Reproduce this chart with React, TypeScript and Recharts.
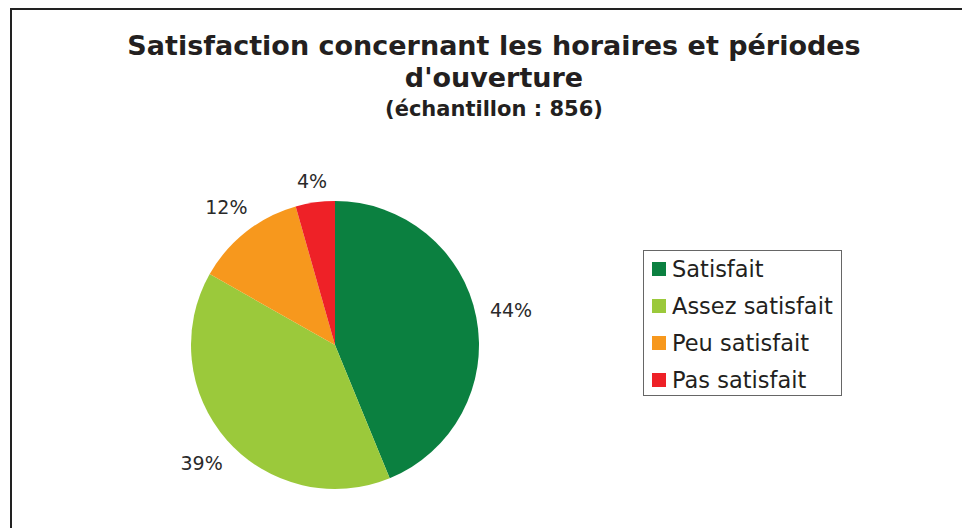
import { Legend, Pie, PieChart } from "recharts";

const categories = ["Satisfait", "Assez satisfait", "Peu satisfait", "Pas satisfait"];
const shares = [43.8, 39.4, 12.4, 4.4];
const colors = ["#0b8040", "#9bc93b", "#f7981d", "#ee2127"];

const data = categories.map((name, i) => ({ name, value: shares[i], fill: colors[i] }));

const RADIAN = Math.PI / 180;
const FONT = "'DejaVu Sans', Verdana, sans-serif";

function renderLabel(props: any) {
  const { cx, cy, midAngle, outerRadius, value } = props;
  const cos = Math.cos(-midAngle * RADIAN);
  const sin = Math.sin(-midAngle * RADIAN);
  const text = `${Math.round(value)}%`;
  const w = String(Math.round(value)).length * 12 + 19;
  const h = 14;
  const r = outerRadius + 13 + Math.abs(cos) * (w / 2) + Math.abs(sin) * (h / 2);
  return (
    <text
      x={cx + r * cos}
      y={cy + r * sin}
      textAnchor="middle"
      dominantBaseline="central"
      fill="#2a2a2a"
      fontSize={19}
      fontFamily={FONT}
    >
      {text}
    </text>
  );
}

function LegendBox() {
  return (
    <div
      style={{
        width: 199,
        height: 146,
        border: "1px solid #666",
        boxSizing: "border-box",
        paddingTop: 0,
        fontFamily: FONT,
        background: "#fff",
      }}
    >
      {data.map((d) => (
        <div key={d.name} style={{ display: "flex", alignItems: "center", height: 36.8, paddingLeft: 8 }}>
          <span style={{ width: 14, height: 14, background: d.fill, display: "inline-block", marginRight: 6 }} />
          <span style={{ fontSize: 22.5, color: "#231f20", whiteSpace: "nowrap" }}>{d.name}</span>
        </div>
      ))}
    </div>
  );
}

export default function App() {
  return (
    <div style={{ position: "absolute", left: 0, top: 0, width: 962, height: 528, background: "#fff", overflow: "hidden" }}>
      <div style={{ position: "absolute", left: 10, top: 8, width: 952, height: 520, borderLeft: "2px solid #222", borderTop: "2px solid #222" }} />
      <div
        style={{
          position: "absolute",
          left: 494,
          top: 30,
          transform: "translateX(-50%)",
          textAlign: "center",
          fontFamily: FONT,
          fontWeight: "bold",
          color: "#231f20",
          whiteSpace: "nowrap",
        }}
      >
        <div style={{ fontSize: 27, lineHeight: "32px" }}>Satisfaction concernant les horaires et périodes</div>
        <div style={{ fontSize: 27, lineHeight: "32px" }}>d'ouverture</div>
        <div style={{ fontSize: 21, lineHeight: "30px" }}>(échantillon : 856)</div>
      </div>
      <PieChart
        width={962}
        height={528}
        margin={{ top: 0, right: 0, bottom: 0, left: 0 }}
        style={{ position: "absolute", left: 0, top: 0 }}
      >
        <Pie
          data={data}
          dataKey="value"
          nameKey="name"
          cx={335}
          cy={345}
          outerRadius={144}
          startAngle={90}
          endAngle={-270}
          stroke="none"
          label={renderLabel}
          labelLine={false}
          isAnimationActive={false}
        />
        <Legend
          layout="vertical"
          content={() => <LegendBox />}
          wrapperStyle={{ position: "absolute", left: 643, top: 250, width: 199 }}
        />
      </PieChart>
    </div>
  );
}
